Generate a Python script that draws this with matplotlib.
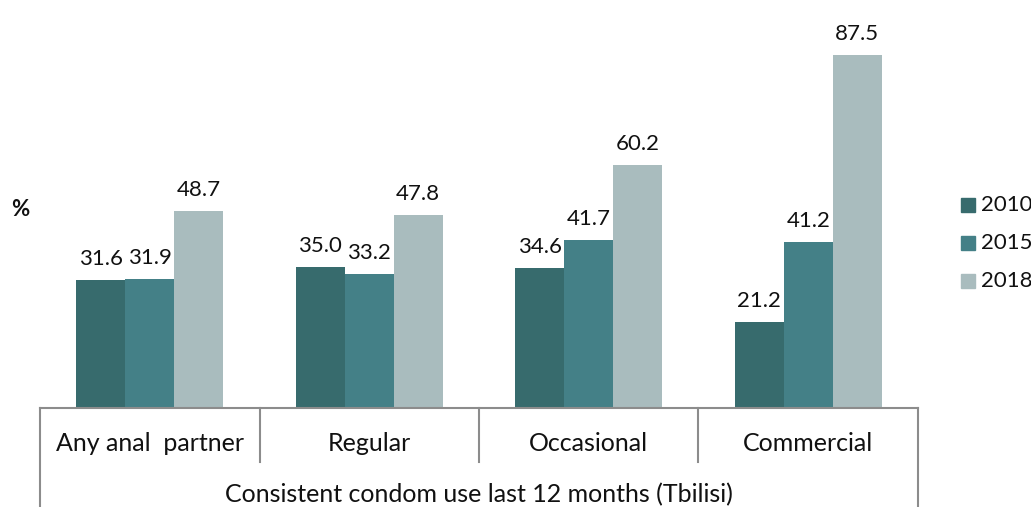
import matplotlib.pyplot as plt
import matplotlib.transforms as mtransforms
import matplotlib.patches as mpatches
import numpy as np

# Consistent condom use last 12 months (Tbilisi), %
categories = ['Any anal  partner', 'Regular', 'Occasional', 'Commercial']
years = ['2010', '2015', '2018']
values = {
    '2010': [31.6, 35.0, 34.6, 21.2],
    '2015': [31.9, 33.2, 41.7, 41.2],
    '2018': [48.7, 47.8, 60.2, 87.5],
}
colors = {'2010': '#376B6D', '2015': '#448087', '2018': '#A9BCBE'}
xlabel = 'Consistent condom use last 12 months (Tbilisi)'

plt.rcParams['font.family'] = ['Lato', 'DejaVu Sans']
W, H = 1031, 507

fig = plt.figure(figsize=(W / 100, H / 100), dpi=100)
ax = fig.add_axes([40 / W, 99 / H, 878 / W, 408 / H])

x = np.arange(len(categories)) + 0.5
w = 0.223
for i, yr in enumerate(years):
    pos = x + (i - 1) * w
    bars = ax.bar(pos, values[yr], width=w, color=colors[yr], label=yr)
    for b, v in zip(bars, values[yr]):
        ax.annotate(f'{v:.1f}', (b.get_x() + b.get_width() / 2, v),
                    xytext=(0, 8), textcoords='offset points',
                    ha='center', va='bottom', fontsize=16, color='#111111')

ax.set_xlim(0, 4)
ax.set_ylim(0, 101.1)
for s in ax.spines.values():
    s.set_visible(False)
ax.set_xticks([])
ax.set_yticks([])

# category axis frame
grey = '#8c8c8c'
trans = mtransforms.blended_transform_factory(ax.transData, ax.transAxes)
ax.plot([0, 4], [0, 0], color=grey, lw=1.5, transform=trans, clip_on=False)
for xb in [1, 2, 3]:
    ax.plot([xb, xb], [0, -0.132], color=grey, lw=1.5, transform=trans, clip_on=False)
for xb in [0, 4]:
    ax.plot([xb, xb], [0, -0.25], color=grey, lw=1.5, transform=trans, clip_on=False)
for xc, cat in zip(x, categories):
    ax.text(xc, -0.086, cat, transform=trans, ha='center', va='center',
            fontsize=18, color='#111111')
ax.text(2, -0.212, xlabel, transform=trans, ha='center', va='center',
        fontsize=18, color='#111111')

fig.text(20 / W, 1 - 210 / H, '%', ha='center', va='center',
         fontsize=16, fontweight='bold', color='#111111')

# legend drawn by hand to sit at the right edge
for yr, yc in zip(years, [205, 243, 281]):
    fig.patches.append(mpatches.Rectangle((961 / W, 1 - (yc + 7) / H), 14 / W, 14 / H,
                                          transform=fig.transFigure,
                                          color=colors[yr]))
    fig.text(981 / W, 1 - yc / H, yr, ha='left', va='center',
             fontsize=16, color='#111111')

fig.savefig('out.png', dpi=100)
